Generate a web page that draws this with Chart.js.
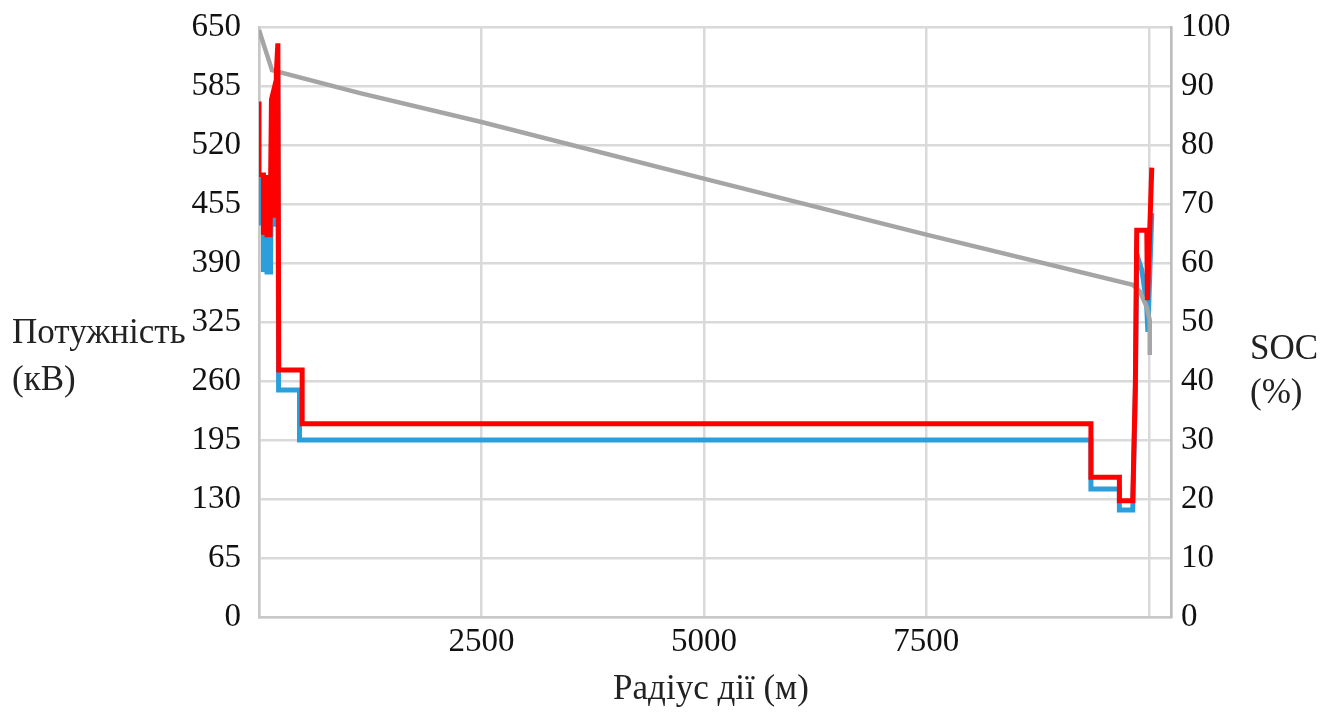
<!DOCTYPE html>
<html>
<head>
<meta charset="utf-8">
<script src="https://cdn.jsdelivr.net/npm/chart.js@4/dist/chart.umd.min.js"></script>
<style>
  html, body { margin: 0; padding: 0; background: #fff; }
  #wrap { width: 1336px; height: 716px; }
</style>
</head>
<body>
<div id="wrap"><canvas id="chart" width="1336" height="716"></canvas></div>
<script>
// distance (m) / power (kW) for the two power traces, distance / % for SOC
const bluePoints = [
  [0, 484], [0, 434], [50, 434], [50, 380], [60, 421], [70, 380], [80, 421],
  [90, 380], [100, 421], [110, 380], [130, 380], [140, 520], [160, 540],
  [175, 430], [200, 560], [212, 600], [220, 250], [455, 250], [455, 195],
  [9350, 195], [9350, 141], [9670, 141], [9670, 118], [9820, 118], [9850, 250],
  [9865, 400], [9922, 382], [9975, 346], [9990, 314], [10034, 445]
];
const redPoints = [
  [0, 568], [0, 487], [50, 487], [50, 421], [60, 487], [70, 421], [80, 487],
  [90, 421], [100, 480], [110, 421], [125, 421], [140, 570], [160, 578],
  [175, 440], [195, 600], [212, 632], [222, 272], [485, 272], [485, 213],
  [9350, 213], [9350, 154], [9670, 154], [9670, 128], [9820, 128], [9850, 260],
  [9865, 426], [9978, 426], [9985, 349], [10034, 495]
];
const socPoints = [
  [0, 99.5], [146, 92.7], [1135, 88.8], [2500, 83.9], [5000, 74.3], [7500, 64.8],
  [9820, 56.3], [9900, 55.2], [9978, 52.5], [10011, 50.3], [10011, 44.4]
];
const xTicks = [2500, 5000, 7500];

const toXY = arr => arr.map(p => ({ x: p[0], y: p[1] }));
const serif = '"Liberation Serif", "Times New Roman", serif';

// horizontal axis titles, as in the original
const titles = {
  id: 'titles',
  afterDraw(chart) {
    const c = chart.ctx;
    c.save();
    c.fillStyle = '#222';
    c.font = '35px ' + serif;
    c.textBaseline = 'middle';
    c.textAlign = 'left';
    c.fillText('Потужність', 12, 334);
    c.fillText('(кВ)', 12, 381);
    c.fillText('SOC', 1250, 350);
    c.fillText('(%)', 1250, 394);
    c.textAlign = 'center';
    c.fillText('Радіус дії (м)', 711, 690);
    c.restore();
  }
};

const fitY = w => s => { s.width = w; s.paddingTop = 0; s.paddingBottom = 0; };

new Chart(document.getElementById('chart'), {
  type: 'scatter',
  data: {
    datasets: [
      {
        label: 'Потужність 2',
        data: toXY(redPoints),
        yAxisID: 'y',
        showLine: true,
        borderColor: '#ff0000',
        borderWidth: 5,
        pointRadius: 0,
        order: 1
      },
      {
        label: 'SOC',
        data: toXY(socPoints),
        yAxisID: 'y2',
        showLine: true,
        borderColor: '#a5a5a5',
        borderWidth: 4.5,
        pointRadius: 0,
        order: 2
      },
      {
        label: 'Потужність 1',
        data: toXY(bluePoints),
        yAxisID: 'y',
        showLine: true,
        borderColor: '#2b9fdb',
        borderWidth: 5,
        pointRadius: 0,
        order: 3
      }
    ]
  },
  options: {
    responsive: false,
    animation: false,
    layout: { padding: { top: 27, left: 0, right: 0, bottom: 0 } },
    plugins: { legend: { display: false }, tooltip: { enabled: false } },
    scales: {
      x: {
        type: 'linear',
        min: 0,
        max: 10250,
        afterFit: s => { s.height = 99; s.paddingLeft = 0; s.paddingRight = 0; },
        afterBuildTicks: s => {
          s.ticks = [0, 2500, 5000, 7500, 10000, 10250].map(v => ({ value: v }));
        },
        ticks: {
          autoSkip: false,
          maxRotation: 0,
          padding: 6,
          color: '#111',
          font: { family: serif, size: 33 },
          callback: v => (xTicks.includes(v) ? String(v) : '')
        },
        grid: { color: '#d9d9d9', lineWidth: 2.5, drawTicks: false },
        border: { color: '#c8c8c8', width: 2.5 }
      },
      y: {
        position: 'left',
        min: 0,
        max: 650,
        afterFit: fitY(259),
        ticks: {
          stepSize: 65,
          padding: 18,
          color: '#111',
          font: { family: serif, size: 33 }
        },
        grid: { color: '#d9d9d9', lineWidth: 2.5, drawTicks: false },
        border: { color: '#c8c8c8', width: 2.5 }
      },
      y2: {
        position: 'right',
        min: 0,
        max: 100,
        afterFit: fitY(165),
        ticks: {
          stepSize: 10,
          padding: 10,
          color: '#111',
          font: { family: serif, size: 33 }
        },
        grid: { display: false, drawTicks: false },
        border: { color: '#bdbdbd', width: 2.5 }
      }
    }
  },
  plugins: [titles]
});
</script>
</body>
</html>
